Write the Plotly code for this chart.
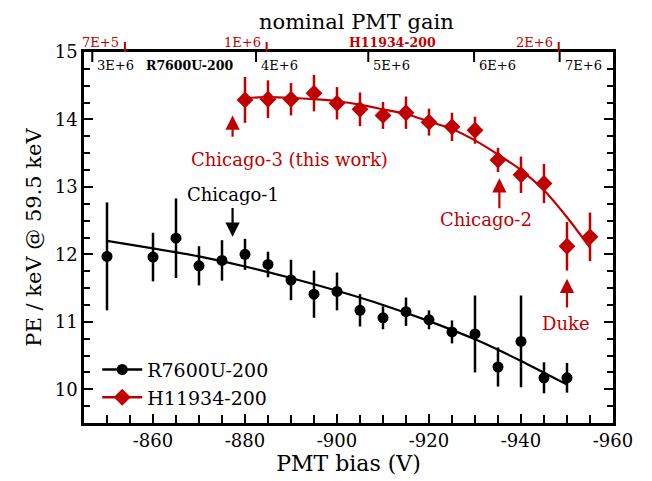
import plotly.graph_objects as go

# ---------------- data ----------------
r7600_bias = [-850, -860, -865, -870, -875, -880, -885, -890, -895, -900,
              -905, -910, -915, -920, -925, -930, -935, -940, -945, -950]
r7600_pe = [11.97, 11.96, 12.24, 11.83, 11.91, 12.00, 11.85, 11.62, 11.41, 11.45,
            11.17, 11.06, 11.15, 11.03, 10.85, 10.82, 10.33, 10.71, 10.17, 10.17]
r7600_err = [0.80, 0.36, 0.59, 0.29, 0.30, 0.23, 0.19, 0.30, 0.35, 0.28,
             0.24, 0.17, 0.21, 0.14, 0.17, 0.57, 0.29, 0.68, 0.23, 0.22]

h11934_bias = [-880, -885, -890, -895, -900, -905, -910, -915, -920, -925,
               -930, -935, -940, -945, -950, -955]
h11934_pe = [14.29, 14.30, 14.30, 14.39, 14.24, 14.15, 14.06, 14.10, 13.96, 13.89,
             13.84, 13.40, 13.18, 13.05, 12.12, 12.26]
h11934_err = [0.34, 0.28, 0.24, 0.27, 0.24, 0.25, 0.20, 0.24, 0.20, 0.21,
              0.20, 0.18, 0.27, 0.29, 0.36, 0.36]

r7600_fit_bias = [-850, -860, -870, -880, -890, -900, -910, -920, -930, -940, -950]
r7600_fit_pe = [12.20, 12.09, 11.97, 11.82, 11.65, 11.46, 11.25, 11.01, 10.74, 10.42, 10.07]

h11934_fit_bias = [-880, -885, -890, -895, -900, -905, -910, -915, -920, -925,
                   -930, -935, -940, -945, -950, -955]
h11934_fit_pe = [14.32, 14.33, 14.32, 14.30, 14.27, 14.22, 14.15, 14.08, 13.97, 13.86,
                 13.69, 13.48, 13.25, 12.95, 12.55, 12.10]

x_tickvals = [-860, -880, -900, -920, -940, -960]
x_ticktext = ["-860", "-880", "-900", "-920", "-940", "-960"]
y_tickvals = [10, 11, 12, 13, 14, 15]
y_ticktext = ["10", "11", "12", "13", "14", "15"]

# nominal gain (top axis) ticks, placed at the bias they correspond to
r7600_gain_bias = [-846.8, -882.4, -906.8, -929.8, -948.4]
r7600_gain_text = ["3E+6", "4E+6", "5E+6", "6E+6", "7E+6"]
h11934_gain_bias = [-853.9, -884.7, -948.2]
h11934_gain_text = ["7E+5", "1E+6", "2E+6"]

BLACK = "#000000"
RED = "#c00000"
FONT = "DejaVu Serif"

fig = go.Figure()

# fit curves
fig.add_trace(go.Scatter(x=r7600_fit_bias, y=r7600_fit_pe, mode="lines",
                         line=dict(color=BLACK, width=2.2, shape="spline", smoothing=0.6),
                         showlegend=False, hoverinfo="skip"))
fig.add_trace(go.Scatter(x=h11934_fit_bias, y=h11934_fit_pe, mode="lines",
                         line=dict(color=RED, width=2.2, shape="spline", smoothing=0.6),
                         showlegend=False, hoverinfo="skip"))

# data points
fig.add_trace(go.Scatter(x=r7600_bias, y=r7600_pe, mode="markers",
                         marker=dict(symbol="circle", size=11, color=BLACK),
                         error_y=dict(type="data", array=r7600_err, color=BLACK,
                                      thickness=2.5, width=0),
                         showlegend=False))
fig.add_trace(go.Scatter(x=h11934_bias, y=h11934_pe, mode="markers",
                         marker=dict(symbol="diamond", size=13, color=RED),
                         error_y=dict(type="data", array=h11934_err, color=RED,
                                      thickness=2.5, width=0),
                         showlegend=False))

# legend entries
fig.add_trace(go.Scatter(x=[None], y=[None], mode="lines+markers", name="R7600U-200",
                         line=dict(color=BLACK, width=2.5),
                         marker=dict(symbol="circle", size=11, color=BLACK)))
fig.add_trace(go.Scatter(x=[None], y=[None], mode="lines+markers", name="H11934-200",
                         line=dict(color=RED, width=2.5),
                         marker=dict(symbol="diamond", size=13, color=RED)))

annotations = []
shapes = []

# top axis: R7600U-200 gains (black, ticks down inside)
for b, t in zip(r7600_gain_bias, r7600_gain_text):
    shapes.append(dict(type="line", xref="x", yref="paper", x0=b, x1=b, y0=1.0, y1=0.973,
                       line=dict(color=BLACK, width=2)))
    annotations.append(dict(x=b, y=0.963, xref="x", yref="paper", text=t, showarrow=False,
                            xanchor="left", yanchor="middle", xshift=3,
                            font=dict(family=FONT, size=13, color=BLACK)))
# top axis: H11934-200 gains (red, ticks up outside)
for b, t in zip(h11934_gain_bias, h11934_gain_text):
    shapes.append(dict(type="line", xref="x", yref="paper", x0=b, x1=b, y0=1.0, y1=1.027,
                       line=dict(color=RED, width=2)))
    annotations.append(dict(x=b, y=1.025, xref="x", yref="paper", text=t, showarrow=False,
                            xanchor="right", yanchor="middle", xshift=-4,
                            font=dict(family=FONT, size=13, color=RED)))

annotations.append(dict(x=-868.0, y=0.963, xref="x", yref="paper", text="<b>R7600U-200</b>",
                        showarrow=False, xanchor="center", yanchor="middle",
                        font=dict(family=FONT, size=12.5, color=BLACK)))
annotations.append(dict(x=-912.0, y=1.025, xref="x", yref="paper", text="<b>H11934-200</b>",
                        showarrow=False, xanchor="center", yanchor="middle",
                        font=dict(family=FONT, size=12.5, color=RED)))
annotations.append(dict(x=0.515, y=1.0, xref="paper", yref="paper", text="nominal PMT gain",
                        showarrow=False, xanchor="center", yanchor="top", yshift=44,
                        font=dict(family=FONT, size=21, color=BLACK)))

# labelled arrows
def arrow(x, y_head, y_tail, color):
    annotations.append(dict(x=x, y=y_head, ax=x, ay=y_tail, xref="x", yref="y",
                            axref="x", ayref="y", text="", showarrow=True,
                            arrowhead=2, arrowsize=1.3, arrowwidth=2.2, arrowcolor=color))

def label(x, y, text, color):
    annotations.append(dict(x=x, y=y, xref="x", yref="y", text=text, showarrow=False,
                            xanchor="center", yanchor="middle",
                            font=dict(family=FONT, size=18, color=color)))

arrow(-877.3, 12.26, 12.71, BLACK)
label(-877.3, 12.89, "Chicago-1", BLACK)
arrow(-877.3, 14.06, 13.72, RED)
label(-889.6, 13.41, "Chicago-3 (this work)", RED)
arrow(-935.3, 13.13, 12.66, RED)
label(-932.3, 12.51, "Chicago-2", RED)
arrow(-950.0, 11.64, 11.19, RED)
label(-949.7, 10.97, "Duke", RED)

# the page body adds an 8px offset, so margins are shifted to keep the plot area in place
fig.update_layout(
    width=652, height=481,
    margin=dict(l=76, r=47, t=44, b=66),
    paper_bgcolor="white", plot_bgcolor="white",
    font=dict(family=FONT, size=18, color=BLACK),
    showlegend=True,
    legend=dict(x=0.025, y=0.195, xanchor="left", yanchor="top",
                bgcolor="rgba(0,0,0,0)", font=dict(family=FONT, size=19),
                tracegroupgap=0, itemwidth=40),
    annotations=annotations,
    shapes=shapes,
)

fig.update_xaxes(
    range=[-845, -960],
    tickmode="array", tickvals=x_tickvals, ticktext=x_ticktext,
    ticks="inside", ticklen=9, tickwidth=2, tickcolor=BLACK,
    minor=dict(tickmode="linear", tick0=-860, dtick=5, ticks="inside",
               ticklen=8, tickwidth=2, tickcolor=BLACK),
    showline=True, linewidth=2.5, linecolor=BLACK, mirror=True,
    showgrid=False, zeroline=False,
    tickfont=dict(family=FONT, size=18),
    title=dict(text="PMT bias (V)", font=dict(family=FONT, size=22), standoff=2),
)
fig.update_yaxes(
    range=[9.5, 15],
    tickmode="array", tickvals=y_tickvals, ticktext=y_ticktext,
    ticks="inside", ticklen=9, tickwidth=2, tickcolor=BLACK,
    minor=dict(tickmode="linear", tick0=10, dtick=0.25, ticks="inside",
               ticklen=6, tickwidth=2, tickcolor=BLACK),
    showline=True, linewidth=2.5, linecolor=BLACK, mirror="allticks",
    showgrid=False, zeroline=False,
    tickfont=dict(family=FONT, size=18),
    title=dict(text="PE / keV @ 59.5 keV", font=dict(family=FONT, size=21), standoff=8),
)

fig.write_html("out.html")
